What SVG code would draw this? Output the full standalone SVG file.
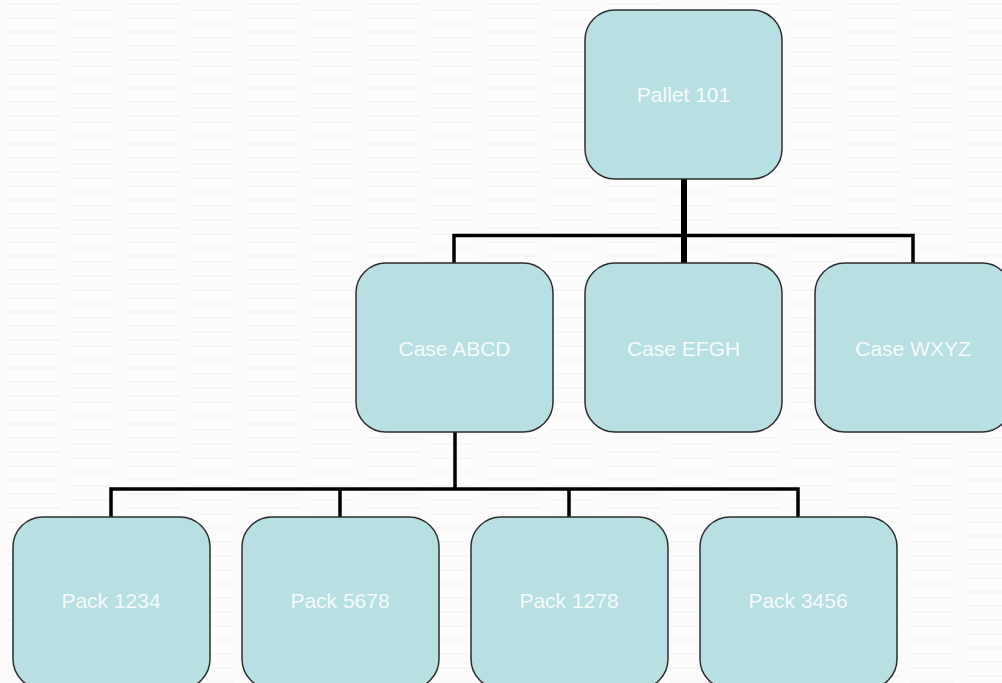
<svg xmlns="http://www.w3.org/2000/svg" width="1002" height="683" viewBox="0 0 1002 683">
<style>
.node rect{fill:#b8dfe2;stroke:#2e2e2e;stroke-width:1.5}
.node text{fill:#f5fbfb;font-family:"Liberation Sans",Arial,sans-serif;font-size:21px;text-anchor:middle}
.conn{stroke:#000;fill:none;stroke-width:3.5;stroke-linecap:butt}
</style>
<defs>
<pattern id="tex" width="120" height="14" patternUnits="userSpaceOnUse">
<rect width="120" height="14" fill="#fcfcfc"/>
<line x1="5" y1="4" x2="60" y2="4" stroke="#f0f0f0" stroke-width="1"/>
<line x1="70" y1="10" x2="115" y2="10" stroke="#f2f2f2" stroke-width="1"/>
</pattern>
</defs>
<rect width="1002" height="683" fill="url(#tex)"/>
<g id="connectors">
<line class="conn" x1="684" y1="179" x2="684" y2="264" style="stroke-width:6"/>
<polyline class="conn" points="454,264 454,235.5 913,235.5 913,264"/>
<line class="conn" x1="455" y1="432" x2="455" y2="489"/>
<polyline class="conn" points="111,518 111,489 798,489 798,518"/>
<line class="conn" x1="340" y1="489" x2="340" y2="518"/>
<line class="conn" x1="569" y1="489" x2="569" y2="518"/>
</g>
<g id="pallet101" class="node"><rect x="585" y="10" width="197" height="169" rx="30"/><text x="683.5" y="102">Pallet 101</text></g>
<g id="caseABCD" class="node"><rect x="356" y="263" width="197" height="169" rx="30"/><text x="454.5" y="356">Case ABCD</text></g>
<g id="caseEFGH" class="node"><rect x="585" y="263" width="197" height="169" rx="30"/><text x="683.5" y="356">Case EFGH</text></g>
<g id="caseWXYZ" class="node"><rect x="815" y="263" width="197" height="169" rx="30"/><text x="913" y="356">Case WXYZ</text></g>
<g id="pack1234" class="node"><rect x="13" y="517" width="197" height="172" rx="30"/><text x="111" y="608">Pack 1234</text></g>
<g id="pack5678" class="node"><rect x="242" y="517" width="197" height="172" rx="30"/><text x="340" y="608">Pack 5678</text></g>
<g id="pack1278" class="node"><rect x="471" y="517" width="197" height="172" rx="30"/><text x="569" y="608">Pack 1278</text></g>
<g id="pack3456" class="node"><rect x="700" y="517" width="197" height="172" rx="30"/><text x="798" y="608">Pack 3456</text></g>
</svg>
